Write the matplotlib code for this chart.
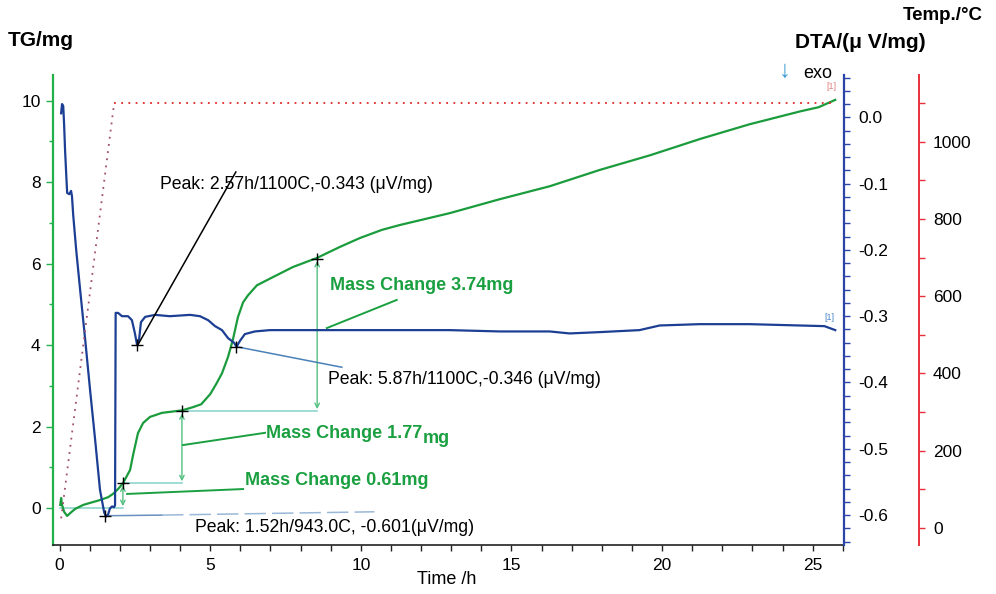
import matplotlib
matplotlib.use('Agg')
import matplotlib.pyplot as plt
from matplotlib.ticker import MultipleLocator, FormatStrFormatter

plt.rcParams['font.family'] = ['Liberation Sans', 'DejaVu Sans']
plt.rcParams['axes.unicode_minus'] = False

# ---------------- data ----------------
tg_time = [0.02, 0.05, 0.08, 0.15, 0.25, 0.35, 0.51, 0.78, 1.01, 1.34, 1.61, 1.77, 1.94, 2.10,
           2.34, 2.44, 2.60, 2.77, 3.00, 3.40, 4.06, 4.43, 4.70, 5.00, 5.20, 5.39, 5.59, 5.75,
           5.92, 6.09, 6.25, 6.55, 7.08, 7.75, 8.54, 9.30, 9.97, 10.70, 11.30, 12.95, 14.60,
           16.27, 17.93, 19.60, 21.26, 22.90, 24.60, 25.20, 25.75]
tg_mass = [0.08, 0.25, 0.08, -0.09, -0.19, -0.12, -0.02, 0.08, 0.13, 0.20, 0.27, 0.35, 0.47, 0.61,
           0.94, 1.31, 1.84, 2.09, 2.24, 2.34, 2.40, 2.48, 2.55, 2.80, 3.05, 3.31, 3.71, 4.13,
           4.69, 5.05, 5.22, 5.47, 5.67, 5.92, 6.14, 6.41, 6.63, 6.83, 6.95, 7.24, 7.58,
           7.90, 8.30, 8.66, 9.06, 9.42, 9.74, 9.84, 10.02]

dta_time = [0.05, 0.08, 0.12, 0.15, 0.18, 0.22, 0.25, 0.32, 0.38, 0.41, 0.45, 0.55, 0.68, 0.85,
            1.01, 1.18, 1.34, 1.48, 1.54, 1.61, 1.67, 1.74, 1.81, 1.84, 1.86, 1.94, 2.07, 2.27,
            2.40, 2.50, 2.57, 2.64, 2.70, 2.84, 3.17, 3.66, 4.33, 4.66, 4.93, 5.16, 5.39, 5.59,
            5.79, 5.87, 5.99, 6.15, 6.48, 6.98, 7.98, 9.64, 11.30, 12.95, 14.61, 16.27, 16.93,
            17.93, 19.25, 19.92, 21.25, 22.90, 24.56, 25.39, 25.75]
dta_val = [0.006, 0.020, 0.017, -0.012, -0.049, -0.087, -0.114, -0.116, -0.111, -0.119, -0.147,
           -0.200, -0.260, -0.336, -0.411, -0.487, -0.562, -0.596, -0.602, -0.599, -0.590, -0.587,
           -0.588, -0.585, -0.295, -0.295, -0.300, -0.300, -0.306, -0.326, -0.343, -0.334, -0.309,
           -0.301, -0.298, -0.300, -0.298, -0.300, -0.306, -0.315, -0.321, -0.333, -0.340, -0.346,
           -0.337, -0.327, -0.323, -0.321, -0.321, -0.321, -0.321, -0.321, -0.323, -0.323, -0.326,
           -0.324, -0.321, -0.314, -0.312, -0.312, -0.314, -0.315, -0.321]

temp_time = [0.05, 1.81, 25.78]
temp_val = [25, 1100, 1100]

peak_time = [1.52, 2.57, 5.87]
peak_dta = [-0.601, -0.343, -0.346]
peak_labels = ['Peak: 1.52h/943.0C, -0.601(\u03bcV/mg)',
               'Peak: 2.57h/1100C,-0.343 (\u03bcV/mg)',
               'Peak: 5.87h/1100C,-0.346 (\u03bcV/mg)']

mass_base = 0.0
mass_change = [0.61, 1.77, 3.74]
mass_step_time = [2.10, 4.06, 8.55]
mass_labels = ['Mass Change 0.61mg', 'Mass Change 1.77', 'Mass Change 3.74mg']

# ---------------- figure ----------------
W, H = 996, 594
fig = plt.figure(figsize=(W / 100, H / 100), dpi=100)
ax = fig.add_axes([53 / W, 1 - 545 / H, 791 / W, 470 / H])
ax_d = ax.twinx()
ax_t = ax.twinx()

GREEN = '#1a9c3c'
GREEN_SP = '#22b04a'
BLUE = '#1c3f94'
BLUE_SP = '#2a44a8'
RED = '#e8303a'

ax.set_xlim(-0.22, 26.04)
ax.set_ylim(-0.903, 10.63)
ax_d.set_ylim(-0.6451, 0.0638)
ax_t.set_ylim(-44, 1172.6)

# spines
for s in ['top', 'right']:
    ax.spines[s].set_visible(False)
ax.spines['left'].set_color(GREEN_SP)
ax.spines['left'].set_linewidth(1.6)
ax.spines['bottom'].set_color('#222222')
ax.spines['bottom'].set_linewidth(1.2)
for s in ['top', 'left', 'bottom']:
    ax_d.spines[s].set_visible(False)
    ax_t.spines[s].set_visible(False)
ax_d.spines['right'].set_color(BLUE_SP)
ax_d.spines['right'].set_linewidth(1.6)
ax_t.spines['right'].set_position(('outward', 54))
ax_t.spines['right'].set_color(RED)
ax_t.spines['right'].set_linewidth(1.4)

TFS = 12.5
ax.xaxis.set_major_locator(MultipleLocator(5))
ax.xaxis.set_minor_locator(MultipleLocator(1))
ax.yaxis.set_major_locator(MultipleLocator(2))
ax.yaxis.set_minor_locator(MultipleLocator(1))
ax.tick_params(axis='x', which='both', direction='out', length=4, width=1, color='#222222',
               labelsize=TFS, pad=5)
ax.tick_params(axis='y', which='major', direction='out', length=5, width=1, color=GREEN_SP,
               labelsize=TFS, pad=4)
ax.tick_params(axis='y', which='minor', direction='out', length=3, width=1, color=GREEN_SP)

ax_d.yaxis.set_major_locator(MultipleLocator(0.1))
ax_d.yaxis.set_minor_locator(MultipleLocator(0.02))
ax_d.yaxis.set_major_formatter(FormatStrFormatter('%.1f'))
ax_d.tick_params(axis='y', which='major', direction='out', length=4, width=1, color=BLUE_SP,
                 labelsize=TFS, pad=6)
ax_d.tick_params(axis='y', which='minor', direction='out', length=4, width=1, color=BLUE_SP)

ax_t.yaxis.set_major_locator(MultipleLocator(200))
ax_t.yaxis.set_minor_locator(MultipleLocator(100))
ax_t.tick_params(axis='y', which='major', direction='out', length=4, width=1, color=RED,
                 labelsize=TFS, pad=6)
ax_t.tick_params(axis='y', which='minor', direction='out', length=4, width=1, color=RED)

# ---------------- curves ----------------
ax_t.plot(temp_time[:2], temp_val[:2], linestyle=(0, (1, 3)), color='#a0506a', lw=1.3)
ax_t.plot(temp_time[1:], temp_val[1:], linestyle=(0, (1, 3)), color='#e02828', lw=1.3)
ax_t.text(temp_time[-1] - 0.15, temp_val[-1] + 30, '[1]', fontsize=6.5, color='#e08080',
          ha='center', va='bottom')

ax.plot(tg_time, tg_mass, color=GREEN, lw=1.6, zorder=5)
ax_d.plot(dta_time, dta_val, color=BLUE, lw=1.6, zorder=5)
ax_d.text(dta_time[-1] - 0.2, dta_val[-1] + 0.012, '[1]', fontsize=6.5, color='#4a86c8',
          ha='center', va='bottom')

# ---------------- peak annotations (DTA) ----------------
PFS = 12.7
ax_d.plot(peak_time, peak_dta, linestyle='none', marker='+', color='black', ms=9, mew=1, zorder=6)
# peak 1 (1.52 h)
ax_d.plot([peak_time[0], 3.4], [peak_dta[0], peak_dta[0] + 0.001], color='#6a90c0', lw=1.1, zorder=4)
ax_d.plot([3.4, 10.45], [peak_dta[0] + 0.001, peak_dta[0] + 0.006], color='#9ab8d8', lw=1.1,
          linestyle=(0, (14, 4)), zorder=4)
ax_d.text(4.49, -0.618, peak_labels[0], fontsize=PFS, ha='left', va='center')
# peak 2 (2.57 h)
ax_d.plot([peak_time[1] + 0.03, 5.85], [peak_dta[1], -0.0825], color='black', lw=1.1, zorder=6)
ax_d.text(3.33, -0.101, peak_labels[1], fontsize=PFS, ha='left', va='center')
# peak 3 (5.87 h)
ax_d.plot([peak_time[2], 9.37], [peak_dta[2], -0.377], color='#4a80b8', lw=1.1, zorder=4)
ax_d.text(8.9, -0.396, peak_labels[2], fontsize=PFS, ha='left', va='center')

# ---------------- mass change annotations (TG) ----------------
levels = [mass_base]
for m in mass_change:
    levels.append(round(levels[-1] + m, 2))
prev_t = [0.0] + mass_step_time[:-1]
LEVEL_C = '#8fd6d0'
ARROW_C = '#55c080'
for i in range(3):
    ax.plot([prev_t[i], mass_step_time[i]], [levels[i], levels[i]], color=LEVEL_C, lw=1.2, zorder=3)
    ax.annotate('', xy=(mass_step_time[i], levels[i + 1] - 0.05),
                xytext=(mass_step_time[i], levels[i] + 0.05),
                arrowprops=dict(arrowstyle='<->', color=ARROW_C, lw=1.0,
                                mutation_scale=8, shrinkA=0, shrinkB=0), zorder=3)
    ax.plot([mass_step_time[i]], [levels[i + 1]], marker='+', color='black', ms=9, mew=1, zorder=6)

MC = '#1aa040'
MFS = 13
# 0.61
ax.plot([2.24, 6.09], [0.35, 0.47], color=MC, lw=1.4, zorder=4)
ax.text(6.15, 0.69, mass_labels[0], fontsize=MFS, fontweight='bold', color=MC,
        ha='left', va='center')
# 1.77
ax.plot([4.1, 6.82], [1.55, 1.85], color=MC, lw=1.4, zorder=4)
ax.text(6.86, 1.84, mass_labels[1], fontsize=MFS, fontweight='bold', color=MC,
        ha='left', va='center')
ax.text(12.05, 1.72, 'mg', fontsize=MFS, fontweight='bold', color=MC, ha='left', va='center')
# 3.74
ax.plot([8.87, 11.19], [4.42, 5.11], color=MC, lw=1.4, zorder=4)
ax.text(8.97, 5.47, mass_labels[2], fontsize=MFS, fontweight='bold', color=MC,
        ha='left', va='center')

# ---------------- titles ----------------
def fx(x):
    return x / W

def fy(y):
    return 1 - y / H

fig.text(fx(8), fy(41), 'TG/mg', fontsize=15, fontweight='bold', ha='left', va='center')
fig.text(fx(926), fy(42), 'DTA/(\u03bc V/mg)', fontsize=15, fontweight='bold', ha='right', va='center')
fig.text(fx(983), fy(15), 'Temp./\u00b0C', fontsize=13.5, fontweight='bold', ha='right', va='center')
fig.text(fx(785), fy(71), '\u2193', fontsize=17, color='#3a9ad0', ha='center', va='center')
fig.text(fx(803), fy(74), 'exo', fontsize=13, ha='left', va='center')
fig.text(fx(447), fy(579), 'Time /h', fontsize=13, ha='center', va='center')

fig.savefig('out.png', dpi=100)
